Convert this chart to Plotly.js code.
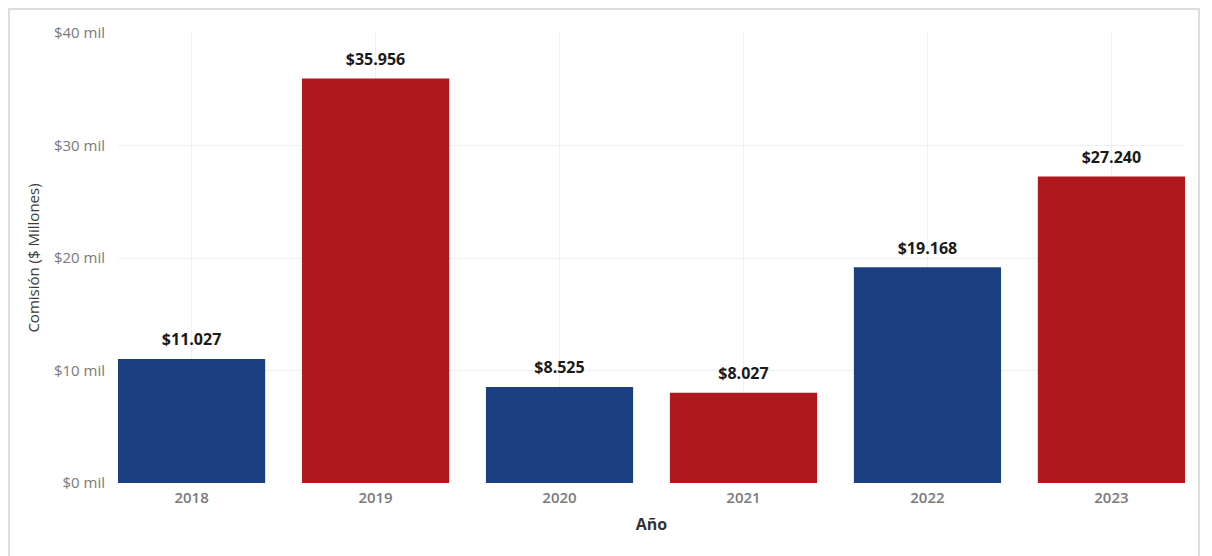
<!DOCTYPE html>
<html><head><meta charset="utf-8">
<script src="https://cdn.plot.ly/plotly-3.0.1.min.js"></script>
<style>
html,body{margin:0;padding:0;background:#fff;}
#wrap{position:relative;width:1212px;height:556px;}
#frame{position:absolute;left:8px;top:8px;width:1192px;height:560px;border:2px solid #dcdcdc;box-sizing:border-box;pointer-events:none;}
#chart{position:absolute;left:0;top:0;width:1212px;height:556px;}
</style></head>
<body><div id="wrap"><div id="chart"></div><div id="frame"></div></div>
<script>
const years = ["2018","2019","2020","2021","2022","2023"];
const comision = [11.027, 35.956, 8.525, 8.027, 19.168, 27.240];
const labels = ["$11.027","$35.956","$8.525","$8.027","$19.168","$27.240"];
const barColors = ["#1c3f82","#b1181e","#1c3f82","#b1181e","#1c3f82","#b1181e"];
const yTicks = [0,10,20,30,40];
const yTickText = ["$0 mil","$10 mil","$20 mil","$30 mil","$40 mil"];

const fontFam = "'Open Sans', 'DejaVu Sans', sans-serif";

const bars = {
  type: "bar",
  x: years,
  y: comision,
  marker: {color: barColors, line: {width: 0}},
  width: 0.8,
  hoverinfo: "skip"
};

const valueLabels = {
  type: "scatter",
  mode: "markers+text",
  x: years,
  y: comision,
  text: labels.map(s => "<b>" + s + "</b>"),
  textposition: "top center",
  textfont: {family: fontFam, size: 16, color: "#1a1a1a"},
  marker: {size: 14, opacity: 0},
  cliponaxis: false,
  hoverinfo: "skip"
};

const layout = {
  width: 1212, height: 556,
  margin: {l: 118, r: 27, t: 33, b: 73},
  paper_bgcolor: "#ffffff", plot_bgcolor: "#ffffff",
  showlegend: false,
  xaxis: {
    type: "category",
    range: [-0.4, 5.4],
    showgrid: true, gridcolor: "#f0f0f0", gridwidth: 1,
    zeroline: false, showline: false, ticks: "",
    ticklabelstandoff: 4,
    tickfont: {family: fontFam, size: 15, color: "#7a7a7a", weight: 600},
    title: {text: "<b>Año</b>", font: {family: fontFam, size: 16, color: "#333333"}, standoff: 12},
    automargin: false
  },
  yaxis: {
    range: [0, 40],
    tickvals: yTicks, ticktext: yTickText,
    showgrid: true, gridcolor: "#f0f0f0", gridwidth: 1,
    zeroline: false, showline: false, ticks: "",
    ticklabelstandoff: 12,
    tickfont: {family: fontFam, size: 15, color: "#7a7a7a"},
    title: {text: "Comisión ($ Millones)", font: {family: fontFam, size: 15, color: "#3a3a3a"}, standoff: 10},
    automargin: false
  }
};

Plotly.newPlot("chart", [bars, valueLabels], layout, {displayModeBar: false, staticPlot: true});
</script></body></html>
